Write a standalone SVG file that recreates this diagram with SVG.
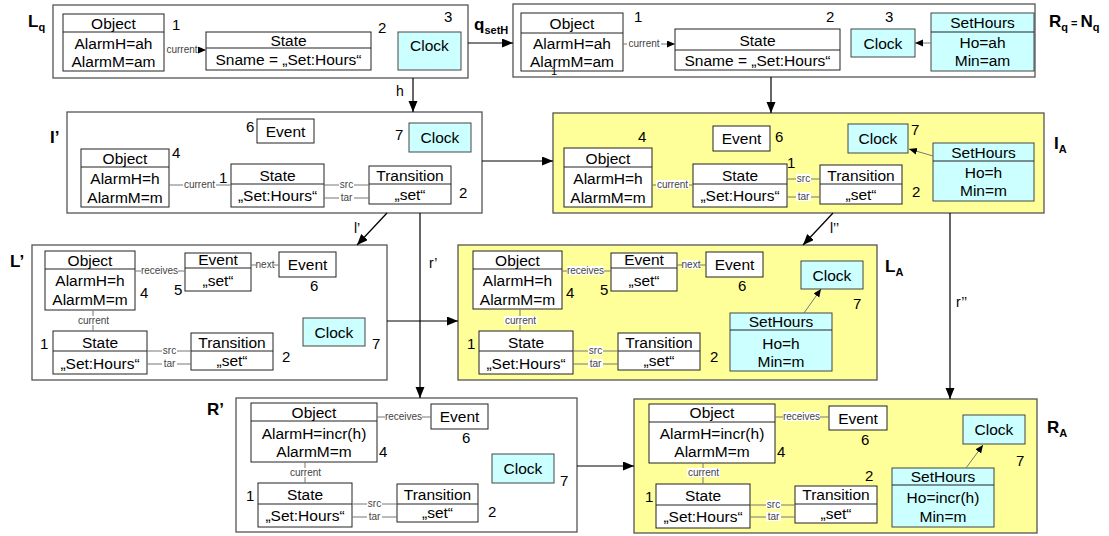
<svg xmlns="http://www.w3.org/2000/svg" width="1109" height="536" viewBox="0 0 1109 536">
<defs>
<marker id="ah" markerUnits="userSpaceOnUse" markerWidth="12" markerHeight="10" refX="11" refY="4.5" orient="auto"><path d="M0,0 L11,4.5 L0,9 z" fill="#000"/></marker>
<marker id="as" markerUnits="userSpaceOnUse" markerWidth="9" markerHeight="8" refX="8" refY="3.5" orient="auto"><path d="M0,0 L8,3.5 L0,7 z" fill="#000"/></marker>
<style>
.frame{fill:#fff;stroke:#555;stroke-width:1.3}
.frameY{fill:#ffff99;stroke:#555;stroke-width:1.3}
.box{fill:#fff;stroke:#222;stroke-width:1}
.cbox{fill:#ccffff;stroke:#444;stroke-width:1}
.hl{stroke:#222;stroke-width:1}
.t{font-family:"Liberation Sans",Arial,sans-serif;font-size:15.5px;fill:#000;text-anchor:middle}
.n{font-family:"Liberation Sans",Arial,sans-serif;font-size:15px;fill:#000}
.s{font-family:"Liberation Sans",Arial,sans-serif;font-size:10px;fill:#444;text-anchor:middle}
.lk{stroke:#777;stroke-width:1;fill:none}
.arr{stroke:#000;stroke-width:1.2;fill:none}
.lab{font-family:"Liberation Sans",Arial,sans-serif;font-size:17px;font-weight:bold;fill:#000}
.sub{font-size:11px}
.el{font-family:"Liberation Sans",Arial,sans-serif;font-size:14px;fill:#000}
.wb{fill:#fff}
</style>
</defs>

<!-- ===== Lq ===== -->
<g id="Lq">
<rect class="frame" x="53" y="5" width="415" height="73"/>
<text class="lab" x="28" y="27">L<tspan class="sub" dy="4">q</tspan></text>
<g id="Lq-object">
<rect class="box" x="63" y="14" width="101" height="57"/><line class="hl" x1="63" y1="32" x2="164" y2="32"/>
<text class="t" x="113.5" y="29">Object</text><text class="t" x="113.5" y="49">AlarmH=ah</text><text class="t" x="113.5" y="67">AlarmM=am</text>
<text class="n" x="172" y="30">1</text>
</g>
<g id="Lq-state">
<rect class="box" x="206" y="32" width="165" height="38"/><line class="hl" x1="206" y1="48" x2="371" y2="48"/>
<text class="t" x="288.5" y="46">State</text><text class="t" x="288.5" y="65">Sname = „Set:Hours“</text>
<text class="n" x="378" y="33">2</text>
</g>
<g id="Lq-clock">
<rect class="cbox" x="398" y="32" width="63" height="38"/>
<text class="t" x="429.5" y="51">Clock</text>
<text class="n" x="444" y="22">3</text>
</g>
<g id="Lq-links">
<text class="s" x="182" y="53">current</text>
<line class="lk" x1="199" y1="50" x2="206" y2="50" marker-end="url(#as)"/>
</g>
</g>

<!-- ===== Rq ===== -->
<g id="Rq">
<rect class="frame" x="513" y="4" width="522" height="73"/>
<text class="lab" x="1049" y="27">R<tspan class="sub" dy="4">q</tspan><tspan class="sub" dy="-4"> = </tspan>N<tspan class="sub" dy="4">q</tspan></text>
<g id="Rq-object">
<rect class="box" x="521" y="13" width="102" height="58"/><line class="hl" x1="521" y1="33" x2="623" y2="33"/>
<text class="t" x="572" y="29">Object</text><text class="t" x="572" y="49">AlarmH=ah</text><text class="t" x="572" y="67">AlarmM=am</text>
<text class="n" x="634" y="22">1</text>
<text class="n" x="551" y="75" style="font-size:11px">1</text>
</g>
<g id="Rq-state">
<rect class="box" x="675" y="29" width="165" height="41"/><line class="hl" x1="675" y1="50" x2="840" y2="50"/>
<text class="t" x="757.5" y="46">State</text><text class="t" x="757.5" y="66">Sname = „Set:Hours“</text>
<text class="n" x="826" y="22">2</text>
</g>
<g id="Rq-clock">
<rect class="cbox" x="851" y="29" width="64" height="28"/>
<text class="t" x="883" y="49">Clock</text>
<text class="n" x="885" y="22">3</text>
</g>
<g id="Rq-sethours">
<rect class="cbox" x="931" y="13" width="103" height="58"/><line class="hl" x1="931" y1="32" x2="1034" y2="32"/>
<text class="t" x="982.5" y="28">SetHours</text><text class="t" x="982.5" y="48">Ho=ah</text><text class="t" x="982.5" y="66">Min=am</text>
</g>
<g id="Rq-links">
<line class="lk" x1="623" y1="44" x2="675" y2="44" marker-end="url(#as)"/>
<rect class="wb" x="627" y="39" width="34" height="9"/>
<text class="s" x="644" y="47">current</text>
<line class="lk" x1="931" y1="43" x2="915" y2="43" marker-end="url(#as)"/>
</g>
</g>

<!-- ===== I' ===== -->
<g id="Iprime">
<rect class="frame" x="67" y="112" width="415" height="101"/>
<text class="lab" x="50" y="143">I’</text>
<g id="Ip-event">
<rect class="box" x="257" y="119" width="57" height="24"/><text class="t" x="285.5" y="137">Event</text>
<text class="n" x="246" y="132">6</text>
</g>
<g id="Ip-clock">
<rect class="cbox" x="409" y="123" width="62" height="29"/><text class="t" x="440" y="143">Clock</text>
<text class="n" x="395" y="140">7</text>
</g>
<g id="Ip-object">
<rect class="box" x="81" y="149" width="88" height="58"/><line class="hl" x1="81" y1="167" x2="169" y2="167"/>
<text class="t" x="125" y="164">Object</text><text class="t" x="125" y="184">AlarmH=h</text><text class="t" x="125" y="203">AlarmM=m</text>
<text class="n" x="172" y="158">4</text>
</g>
<g id="Ip-state">
<rect class="box" x="231" y="164" width="93" height="43"/><line class="hl" x1="231" y1="184" x2="324" y2="184"/>
<text class="t" x="277.5" y="181">State</text><text class="t" x="277.5" y="201">„Set:Hours“</text>
<text class="n" x="219" y="183">1</text>
</g>
<g id="Ip-transition">
<rect class="box" x="369" y="166" width="82" height="38"/><line class="hl" x1="369" y1="184" x2="451" y2="184"/>
<text class="t" x="410" y="181">Transition</text><text class="t" x="410" y="200">„set“</text>
<text class="n" x="459" y="198">2</text>
</g>
<g id="Ip-links">
<line class="lk" x1="169" y1="185" x2="231" y2="185"/>
<rect class="wb" x="183" y="180" width="33" height="9"/><text class="s" x="199.5" y="188">current</text>
<line class="lk" x1="324" y1="185" x2="369" y2="185"/>
<rect class="wb" x="339" y="180" width="15" height="9"/><text class="s" x="346.5" y="188">src</text>
<line class="lk" x1="324" y1="198" x2="369" y2="198"/>
<rect class="wb" x="339" y="193" width="15" height="9"/><text class="s" x="346.5" y="201">tar</text>
</g>
</g>

<!-- ===== IA ===== -->
<g id="IA">
<rect class="frameY" x="553" y="113" width="491" height="100"/>
<text class="lab" x="1054" y="149">I<tspan class="sub" dy="4">A</tspan></text>
<g id="IA-event">
<rect class="box" x="713" y="126" width="57" height="25"/><text class="t" x="741.5" y="144">Event</text>
<text class="n" x="775" y="142">6</text>
</g>
<g id="IA-clock">
<rect class="cbox" x="848" y="124" width="60" height="29"/><text class="t" x="878" y="144">Clock</text>
<text class="n" x="911" y="135">7</text>
</g>
<g id="IA-sethours">
<rect class="cbox" x="933" y="143" width="101" height="58"/><line class="hl" x1="933" y1="161" x2="1034" y2="161"/>
<text class="t" x="983.5" y="158">SetHours</text><text class="t" x="983.5" y="178">Ho=h</text><text class="t" x="983.5" y="196">Min=m</text>
</g>
<g id="IA-object">
<rect class="box" x="564" y="148" width="88" height="59"/><line class="hl" x1="564" y1="167" x2="652" y2="167"/>
<text class="t" x="608" y="164">Object</text><text class="t" x="608" y="184">AlarmH=h</text><text class="t" x="608" y="203">AlarmM=m</text>
<text class="n" x="638" y="142">4</text>
</g>
<g id="IA-state">
<rect class="box" x="693" y="164" width="94" height="43"/><line class="hl" x1="693" y1="184" x2="787" y2="184"/>
<text class="t" x="740" y="181">State</text><text class="t" x="740" y="201">„Set:Hours“</text>
<text class="n" x="787" y="168">1</text>
</g>
<g id="IA-transition">
<rect class="box" x="820" y="165" width="82" height="39"/><line class="hl" x1="820" y1="184" x2="902" y2="184"/>
<text class="t" x="861" y="181">Transition</text><text class="t" x="861" y="200">„set“</text>
<text class="n" x="912" y="197">2</text>
</g>
<g id="IA-links">
<line class="lk" x1="652" y1="185" x2="693" y2="185"/>
<rect class="wb" x="656" y="180" width="33" height="9"/><text class="s" x="672.5" y="188">current</text>
<line class="lk" x1="787" y1="179" x2="820" y2="179"/>
<rect class="wb" x="796" y="174" width="15" height="9"/><text class="s" x="803.5" y="182">src</text>
<line class="lk" x1="787" y1="197" x2="820" y2="197"/>
<rect class="wb" x="796" y="192" width="15" height="9"/><text class="s" x="803.5" y="200">tar</text>
<line class="lk" x1="933" y1="156" x2="909" y2="149" marker-end="url(#as)"/>
</g>
</g>

<!-- ===== L' ===== -->
<g id="Lprime">
<rect class="frame" x="32" y="245" width="355" height="135"/>
<text class="lab" x="10" y="267">L’</text>
<g id="Lp-object">
<rect class="box" x="45" y="251" width="90" height="59"/><line class="hl" x1="45" y1="269" x2="135" y2="269"/>
<text class="t" x="90" y="266">Object</text><text class="t" x="90" y="286">AlarmH=h</text><text class="t" x="90" y="305">AlarmM=m</text>
<text class="n" x="140" y="298">4</text>
</g>
<g id="Lp-event5">
<rect class="box" x="185" y="253" width="66" height="38"/><line class="hl" x1="185" y1="268" x2="251" y2="268"/>
<text class="t" x="218" y="265">Event</text><text class="t" x="218" y="286">„set“</text>
<text class="n" x="174" y="295">5</text>
</g>
<g id="Lp-event6">
<rect class="box" x="279" y="252" width="57" height="25"/><text class="t" x="307.5" y="270">Event</text>
<text class="n" x="310" y="291">6</text>
</g>
<g id="Lp-state">
<rect class="box" x="53" y="331" width="94" height="43"/><line class="hl" x1="53" y1="351" x2="147" y2="351"/>
<text class="t" x="100" y="348">State</text><text class="t" x="100" y="369">„Set:Hours“</text>
<text class="n" x="40" y="349">1</text>
</g>
<g id="Lp-transition">
<rect class="box" x="191" y="333" width="82" height="37"/><line class="hl" x1="191" y1="351" x2="273" y2="351"/>
<text class="t" x="232" y="348">Transition</text><text class="t" x="232" y="366">„set“</text>
<text class="n" x="282" y="362">2</text>
</g>
<g id="Lp-clock">
<rect class="cbox" x="303" y="318" width="62" height="28"/><text class="t" x="334" y="338">Clock</text>
<text class="n" x="372" y="349">7</text>
</g>
<g id="Lp-links">
<line class="lk" x1="135" y1="271" x2="185" y2="271"/>
<rect class="wb" x="141" y="266" width="37" height="9"/><text class="s" x="159.5" y="274">receives</text>
<line class="lk" x1="251" y1="265" x2="279" y2="265"/>
<rect class="wb" x="256" y="260" width="18" height="9"/><text class="s" x="265" y="268">next</text>
<line class="lk" x1="93" y1="310" x2="93" y2="331"/>
<rect class="wb" x="77" y="316" width="33" height="9"/><text class="s" x="93.5" y="324">current</text>
<line class="lk" x1="147" y1="351" x2="191" y2="351"/>
<rect class="wb" x="162" y="346" width="15" height="9"/><text class="s" x="169.5" y="354">src</text>
<line class="lk" x1="147" y1="364" x2="191" y2="364"/>
<rect class="wb" x="162" y="359" width="15" height="9"/><text class="s" x="169.5" y="367">tar</text>
</g>
</g>

<!-- ===== LA ===== -->
<g id="LA">
<rect class="frameY" x="458" y="245" width="419" height="135"/>
<text class="lab" x="885" y="272">L<tspan class="sub" dy="4">A</tspan></text>
<g id="LA-object">
<rect class="box" x="473" y="251" width="89" height="58"/><line class="hl" x1="473" y1="269" x2="562" y2="269"/>
<text class="t" x="517.5" y="266">Object</text><text class="t" x="517.5" y="286">AlarmH=h</text><text class="t" x="517.5" y="305">AlarmM=m</text>
<text class="n" x="566" y="298">4</text>
</g>
<g id="LA-event5">
<rect class="box" x="611" y="253" width="66" height="38"/><line class="hl" x1="611" y1="268" x2="677" y2="268"/>
<text class="t" x="644" y="265">Event</text><text class="t" x="644" y="286">„set“</text>
<text class="n" x="600" y="295">5</text>
</g>
<g id="LA-event6">
<rect class="box" x="706" y="252" width="57" height="25"/><text class="t" x="734.5" y="270">Event</text>
<text class="n" x="738" y="291">6</text>
</g>
<g id="LA-clock">
<rect class="cbox" x="801" y="261" width="62" height="28"/><text class="t" x="832" y="281">Clock</text>
<text class="n" x="853" y="309">7</text>
</g>
<g id="LA-sethours">
<rect class="cbox" x="730" y="313" width="102" height="58"/><line class="hl" x1="730" y1="330" x2="832" y2="330"/>
<text class="t" x="781" y="327">SetHours</text><text class="t" x="781" y="349">Ho=h</text><text class="t" x="781" y="367">Min=m</text>
</g>
<g id="LA-state">
<rect class="box" x="479" y="331" width="94" height="43"/><line class="hl" x1="479" y1="351" x2="573" y2="351"/>
<text class="t" x="526" y="348">State</text><text class="t" x="526" y="369">„Set:Hours“</text>
<text class="n" x="467" y="349">1</text>
</g>
<g id="LA-transition">
<rect class="box" x="618" y="333" width="82" height="37"/><line class="hl" x1="618" y1="351" x2="700" y2="351"/>
<text class="t" x="659" y="348">Transition</text><text class="t" x="659" y="366">„set“</text>
<text class="n" x="710" y="362">2</text>
</g>
<g id="LA-links">
<line class="lk" x1="562" y1="271" x2="611" y2="271"/>
<rect class="wb" x="567" y="266" width="37" height="9"/><text class="s" x="585.5" y="274">receives</text>
<line class="lk" x1="677" y1="265" x2="706" y2="265"/>
<rect class="wb" x="682" y="260" width="18" height="9"/><text class="s" x="691" y="268">next</text>
<line class="lk" x1="520" y1="309" x2="520" y2="331"/>
<rect class="wb" x="504" y="316" width="33" height="9"/><text class="s" x="520.5" y="324">current</text>
<line class="lk" x1="573" y1="351" x2="618" y2="351"/>
<rect class="wb" x="588" y="346" width="15" height="9"/><text class="s" x="595.5" y="354">src</text>
<line class="lk" x1="573" y1="364" x2="618" y2="364"/>
<rect class="wb" x="588" y="359" width="15" height="9"/><text class="s" x="595.5" y="367">tar</text>
<line class="lk" x1="804" y1="313" x2="821" y2="289" marker-end="url(#as)"/>
</g>
</g>

<!-- ===== R' ===== -->
<g id="Rprime">
<rect class="frame" x="236" y="398" width="341" height="134"/>
<text class="lab" x="207" y="415">R’</text>
<g id="Rp-object">
<rect class="box" x="251" y="403" width="126" height="59"/><line class="hl" x1="251" y1="421" x2="377" y2="421"/>
<text class="t" x="314" y="418">Object</text><text class="t" x="314" y="439">AlarmH=incr(h)</text><text class="t" x="314" y="457">AlarmM=m</text>
<text class="n" x="379" y="457">4</text>
</g>
<g id="Rp-event">
<rect class="box" x="431" y="404" width="57" height="25"/><text class="t" x="459.5" y="422">Event</text>
<text class="n" x="462" y="443">6</text>
</g>
<g id="Rp-clock">
<rect class="cbox" x="492" y="454" width="62" height="29"/><text class="t" x="523" y="474">Clock</text>
<text class="n" x="560" y="486">7</text>
</g>
<g id="Rp-state">
<rect class="box" x="258" y="483" width="94" height="44"/><line class="hl" x1="258" y1="504" x2="352" y2="504"/>
<text class="t" x="305" y="500">State</text><text class="t" x="305" y="521">„Set:Hours“</text>
<text class="n" x="246" y="501">1</text>
</g>
<g id="Rp-transition">
<rect class="box" x="397" y="484" width="81" height="38"/><line class="hl" x1="397" y1="504" x2="478" y2="504"/>
<text class="t" x="437.5" y="500">Transition</text><text class="t" x="437.5" y="518">„set“</text>
<text class="n" x="488" y="517">2</text>
</g>
<g id="Rp-links">
<line class="lk" x1="377" y1="417" x2="431" y2="417"/>
<rect class="wb" x="385" y="412" width="37" height="9"/><text class="s" x="403.5" y="420">receives</text>
<line class="lk" x1="305" y1="462" x2="305" y2="483"/>
<rect class="wb" x="289" y="468" width="33" height="9"/><text class="s" x="305.5" y="476">current</text>
<line class="lk" x1="352" y1="504" x2="397" y2="504"/>
<rect class="wb" x="367" y="499" width="15" height="9"/><text class="s" x="374.5" y="507">src</text>
<line class="lk" x1="352" y1="517" x2="397" y2="517"/>
<rect class="wb" x="367" y="512" width="15" height="9"/><text class="s" x="374.5" y="520">tar</text>
</g>
</g>

<!-- ===== RA ===== -->
<g id="RA">
<rect class="frameY" x="634" y="399" width="403" height="134"/>
<text class="lab" x="1047" y="433">R<tspan class="sub" dy="4">A</tspan></text>
<g id="RA-object">
<rect class="box" x="649" y="404" width="126" height="59"/><line class="hl" x1="649" y1="422" x2="775" y2="422"/>
<text class="t" x="712" y="418">Object</text><text class="t" x="712" y="439">AlarmH=incr(h)</text><text class="t" x="712" y="457">AlarmM=m</text>
<text class="n" x="777" y="457">4</text>
</g>
<g id="RA-event">
<rect class="box" x="829" y="406" width="58" height="24"/><text class="t" x="858" y="424">Event</text>
<text class="n" x="861" y="445">6</text>
</g>
<g id="RA-clock">
<rect class="cbox" x="963" y="415" width="62" height="29"/><text class="t" x="994" y="435">Clock</text>
<text class="n" x="1016" y="466">7</text>
</g>
<g id="RA-sethours">
<rect class="cbox" x="892" y="468" width="102" height="59"/><line class="hl" x1="892" y1="485" x2="994" y2="485"/>
<text class="t" x="943" y="482">SetHours</text><text class="t" x="943" y="503">Ho=incr(h)</text><text class="t" x="943" y="522">Min=m</text>
</g>
<g id="RA-state">
<rect class="box" x="656" y="484" width="94" height="44"/><line class="hl" x1="656" y1="505" x2="750" y2="505"/>
<text class="t" x="703" y="501">State</text><text class="t" x="703" y="522">„Set:Hours“</text>
<text class="n" x="645" y="502">1</text>
</g>
<g id="RA-transition">
<rect class="box" x="795" y="486" width="82" height="37"/><line class="hl" x1="795" y1="504" x2="877" y2="504"/>
<text class="t" x="836" y="500">Transition</text><text class="t" x="836" y="519">„set“</text>
<text class="n" x="865" y="481">2</text>
</g>
<g id="RA-links">
<line class="lk" x1="775" y1="417" x2="829" y2="417"/>
<rect class="wb" x="783" y="412" width="37" height="9"/><text class="s" x="801.5" y="420">receives</text>
<line class="lk" x1="703" y1="463" x2="703" y2="484"/>
<rect class="wb" x="687" y="468" width="33" height="9"/><text class="s" x="703.5" y="476">current</text>
<line class="lk" x1="750" y1="505" x2="795" y2="505"/>
<rect class="wb" x="766" y="500" width="15" height="9"/><text class="s" x="773.5" y="508">src</text>
<line class="lk" x1="750" y1="517" x2="795" y2="517"/>
<rect class="wb" x="766" y="512" width="15" height="9"/><text class="s" x="773.5" y="520">tar</text>
<line class="lk" x1="966" y1="468" x2="983" y2="445" marker-end="url(#as)"/>
</g>
</g>

<!-- ===== connectors ===== -->
<g id="connectors">
<path class="arr" d="M468,43 H513" marker-end="url(#ah)"/>
<text class="lab" x="474" y="30">q<tspan class="sub" dy="4">setH</tspan></text>
<path class="arr" d="M413,78 V112" marker-end="url(#ah)"/>
<text class="el" x="396" y="96">h</text>
<path class="arr" d="M771,77 V113" marker-end="url(#ah)"/>
<path class="arr" d="M482,161 H553" marker-end="url(#ah)"/>
<path class="arr" d="M387,213 L357,245" marker-end="url(#ah)"/>
<text class="el" x="354" y="233">l’</text>
<path class="arr" d="M420,213 V398" marker-end="url(#ah)"/>
<text class="el" x="429" y="268">r’</text>
<path class="arr" d="M833,213 L803,245" marker-end="url(#ah)"/>
<text class="el" x="830" y="233">l’’</text>
<path class="arr" d="M950,213 V399" marker-end="url(#ah)"/>
<text class="el" x="956" y="307">r’’</text>
<path class="arr" d="M387,321 H458" marker-end="url(#ah)"/>
<path class="arr" d="M577,466 H634" marker-end="url(#ah)"/>
</g>
</svg>
